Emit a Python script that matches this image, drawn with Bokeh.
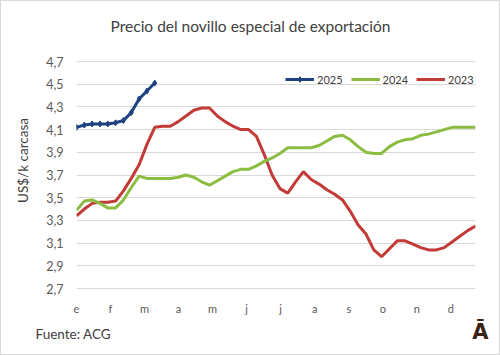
import math
from bokeh.plotting import figure
from bokeh.layouts import column, row
from bokeh.models import (Range1d, FixedTicker, CustomJSTickFormatter, Legend, LegendItem)
from bokeh.core.properties import value
from bokeh.embed import file_html
from bokeh.resources import INLINE

# ---- data (weekly, week index 0..51) ----
months = ["e", "f", "m", "a", "m", "j", "j", "a", "s", "o", "n", "d"]
weeks_per_month = 4.35
y_ticks = [2.7, 2.9, 3.1, 3.3, 3.5, 3.7, 3.9, 4.1, 4.3, 4.5, 4.7]

s2025 = [4.12, 4.14, 4.15, 4.15, 4.15, 4.16, 4.18, 4.25, 4.37, 4.44, 4.51]

s2024 = [3.39, 3.47, 3.48, 3.45, 3.41, 3.41, 3.48, 3.59, 3.69, 3.67,
         3.67, 3.67, 3.67, 3.68, 3.70, 3.68, 3.64, 3.61, 3.65, 3.69,
         3.73, 3.75, 3.75, 3.78, 3.82, 3.85, 3.89, 3.94, 3.94, 3.94,
         3.94, 3.96, 4.00, 4.04, 4.05, 4.01, 3.95, 3.90, 3.89, 3.89,
         3.95, 3.99, 4.01, 4.02, 4.05, 4.06, 4.08, 4.10, 4.12, 4.12,
         4.12, 4.12]

s2023 = [3.34, 3.40, 3.45, 3.46, 3.46, 3.47, 3.56, 3.67, 3.79, 3.97,
         4.12, 4.13, 4.13, 4.17, 4.22, 4.27, 4.29, 4.29, 4.22, 4.17,
         4.13, 4.10, 4.10, 4.04, 3.88, 3.70, 3.58, 3.54, 3.64, 3.73,
         3.66, 3.62, 3.57, 3.53, 3.48, 3.38, 3.26, 3.18, 3.04, 2.98,
         3.05, 3.12, 3.12, 3.09, 3.06, 3.04, 3.04, 3.06, 3.11, 3.16,
         3.21, 3.25]

title_text = "Precio del novillo especial de exportación"
y_label_text = "US$/k carcasa"
source_text = "Fuente: ACG"
logo_text = "Ā"

C25 = "#1f4280"
C24 = "#8cbd43"
C23 = "#c23b37"
FONT = "Lato"


def strip(w, h):
    s = figure(width=w, height=h, output_backend="svg", toolbar_location=None,
               title=None, x_range=Range1d(0, w), y_range=Range1d(h, 0),
               min_border=0, x_axis_type=None, y_axis_type=None)
    s.frame_align = False
    s.outline_line_color = None
    s.grid.visible = False
    s.background_fill_color = "white"
    s.border_fill_color = "white"
    return s


# header
hdr = strip(498, 40)
hdr.text(x=[249], y=[24], text=[title_text], text_font=value(FONT),
         text_font_size="15.5px", text_color="#404040", text_align="center",
         text_baseline="middle")

# y label strip
ylab = strip(35, 277)
ylab.text(x=[21], y=[119], text=[y_label_text], text_font=value(FONT),
          text_font_size="13.5px", text_color="#404040", text_align="center",
          text_baseline="middle", angle=math.pi / 2)

# main chart
p = figure(width=463, height=277, output_backend="svg", toolbar_location=None,
           title=None, x_range=Range1d(0, 51),
           y_range=Range1d(2.7 - 2 / 113.5, 4.7 + 2 / 113.5),
           min_border_left=40, min_border_right=24, min_border_top=18,
           min_border_bottom=28)
p.frame_align = False
p.outline_line_color = None
p.background_fill_color = "white"
p.border_fill_color = "white"

p.xaxis.ticker = FixedTicker(ticks=[i * weeks_per_month for i in range(len(months))])
p.xaxis.formatter = CustomJSTickFormatter(args=dict(m=months, step=weeks_per_month),
                                          code="return m[Math.round(tick/step)];")
p.yaxis.ticker = FixedTicker(ticks=y_ticks)
p.yaxis.formatter = CustomJSTickFormatter(code="return tick.toFixed(1).replace('.', ',');")
for ax in (p.xaxis[0], p.yaxis[0]):
    ax.axis_line_color = None
    ax.major_tick_line_color = None
    ax.minor_tick_line_color = None
    ax.major_tick_out = 0
    ax.major_tick_in = 0
    ax.major_label_text_font = FONT
    ax.major_label_text_color = "#595959"
p.xaxis.major_label_text_font_size = "11px"
p.xaxis.major_label_standoff = 11
p.yaxis.major_label_text_font_size = "12.5px"
p.yaxis.major_label_standoff = 13

p.xgrid.grid_line_color = None
p.ygrid.grid_line_color = "#d9d9d9"
p.ygrid.grid_line_width = 1

x25 = list(range(len(s2025)))
x24 = list(range(len(s2024)))
x23 = list(range(len(s2023)))
r23 = p.line(x23, s2023, line_color=C23, line_width=3)
r24 = p.line(x24, s2024, line_color=C24, line_width=3)
r25 = p.line(x25, s2025, line_color=C25, line_width=3)
m25 = p.scatter(x25, s2025, marker="diamond", size=6, color=C25)

legend = Legend(items=[LegendItem(label="2025", renderers=[r25, m25]),
                       LegendItem(label="2024", renderers=[r24]),
                       LegendItem(label="2023", renderers=[r23])],
                orientation="horizontal", location=(209, 204),
                glyph_width=29, glyph_height=14, label_standoff=3, spacing=8,
                padding=0, margin=0, border_line_color=None,
                background_fill_alpha=0, label_text_font=FONT,
                label_text_font_size="11px", label_text_color="#404040",
                label_height=14)
p.add_layout(legend)

# footer
ftr = strip(498, 36)
ftr.text(x=[34], y=[15], text=[source_text], text_font=value(FONT),
         text_font_size="13.5px", text_color="#404040", text_align="left",
         text_baseline="middle")
ftr.text(x=[479], y=[13], text=[logo_text], text_font=value("DejaVu Sans"),
         text_font_size="21px", text_font_style="bold", text_color="#3b2314",
         text_align="center", text_baseline="middle")

layout = column(hdr, row(ylab, p, spacing=0), ftr, spacing=0,
                styles={"border": "1px solid #d9d9d9"})
open("out.html", "w").write(file_html(layout, INLINE))
